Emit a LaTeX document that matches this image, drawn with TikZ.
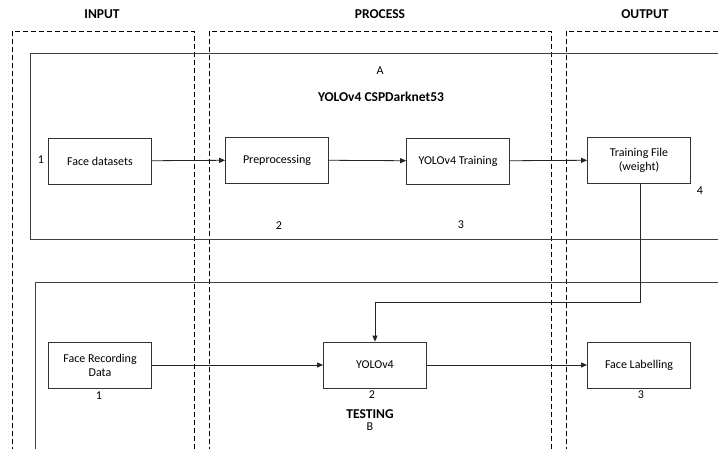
\documentclass[tikz,border=0pt]{standalone}
\usepackage{fontspec}
\setmainfont{Carlito}
\usetikzlibrary{arrows.meta}
\begin{document}
\begin{tikzpicture}[x=1pt,y=-1pt,
  lane/.style={draw=black, line width=0.7pt, dash pattern=on 5pt off 3pt},
  group/.style={draw=black!75, line width=0.8pt},
  stepbox/.style={draw=black!80, line width=0.8pt, minimum width=103pt, minimum height=46pt, align=center, inner sep=1pt, font=\fontsize{12}{14}\selectfont},
  lbl/.style={inner sep=0pt, font=\fontsize{12}{14}\selectfont},
  head/.style={inner sep=0pt, font=\bfseries\fontsize{13.5}{16}\selectfont},
  conn/.style={draw=black!85, line width=0.8pt, -{Triangle[length=6pt,width=5pt]}}]
\useasboundingbox (0,0) rectangle (718,448);
\clip (0,0) rectangle (718,448);
\fill[white] (0,0) rectangle (718,448);
% lanes
\draw[lane] (12,460) -- (12,31) -- (194,31) -- (194,460);
\draw[lane] (209,460) -- (209,31) -- (551,31) -- (551,460);
\draw[lane] (566,460) -- (566,31) -- (730,31);
\node[head] (hin) at (102,14) {INPUT};
\node[head] (hpr) at (380,14) {PROCESS};
\node[head] (hout) at (645,14) {OUTPUT};
% groups
\draw[group] (730,53) -- (30,53) -- (30,239) -- (730,239);
\draw[group] (730,282) -- (35,282) -- (35,460);
\node[lbl] (la) at (380,71) {A};
\node[head] (ta) at (381,97) {YOLOv4 CSPDarknet53};
% top row
\node[stepbox] (fd) at (100,161) {Face datasets};
\node[stepbox] (pre) at (277,160) {Preprocessing};
\node[stepbox] (ytr) at (458,161) {YOLOv4 Training};
\node[stepbox] (tf) at (639,160) {Training File\\(weight)};
\node[lbl] (n1) at (41,160) {1};
\node[lbl] (n2) at (279,226) {2};
\node[lbl] (n3) at (461,225) {3};
\node[lbl] (n4) at (700,191) {4};
% bottom row
\node[stepbox] (frd) at (100,365) {Face Recording\\Data};
\node[stepbox] (yolo) at (375,365) {YOLOv4};
\node[stepbox] (fl) at (639,365) {Face Labelling};
\node[lbl] (m1) at (99,396) {1};
\node[lbl] (m2) at (372,395) {2};
\node[lbl] (m3) at (641,395) {3};
\node[head] (tb) at (370,414) {TESTING};
\node[lbl] (lb) at (370,427) {B};
% connectors
\draw[conn] (fd) -- (pre);
\draw[conn] (pre) -- (ytr);
\draw[conn] (ytr) -- (tf);
\draw[conn] (frd) -- (yolo);
\draw[conn] (yolo) -- (fl);
\coordinate (bend) at (640,302);
\draw[conn] (tf.south -| bend) -- (bend) -| (yolo.north);
\end{tikzpicture}
\end{document}
